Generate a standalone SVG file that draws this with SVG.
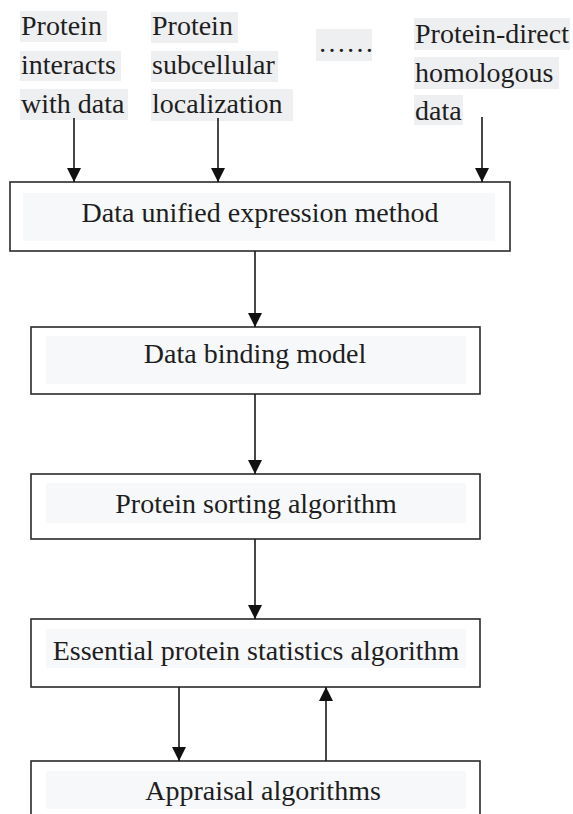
<svg xmlns="http://www.w3.org/2000/svg" width="573" height="814" viewBox="0 0 573 814">
<style>
text{font-family:"Liberation Serif","Times New Roman",serif;font-size:28px;fill:#1e1e1e}
.lbl{fill:#eeeff1}
.inner{fill:#f6f8fa}
.box{fill:#fff;stroke:#2a2a2a;stroke-width:1.6}
.c{text-anchor:middle}
.con line{stroke:#1a1a1a;stroke-width:1.6}
</style>
<defs>
<marker id="ah" markerUnits="userSpaceOnUse" markerWidth="14" markerHeight="14" viewBox="0 0 14 14" refX="14" refY="7" orient="auto">
<path d="M0,0 L14,7 L0,14 Z" fill="#111"/>
</marker>
</defs>
<rect width="573" height="814" fill="#fff"/>

<g id="label-interacts">
<rect class="lbl" x="20" y="11" width="87" height="31"/>
<rect class="lbl" x="20" y="51" width="101" height="30"/>
<rect class="lbl" x="20" y="89" width="108" height="31"/>
<text x="21" y="35">Protein</text>
<text x="21" y="74">interacts</text>
<text x="21" y="113">with data</text>
</g>
<g id="label-subcellular">
<rect class="lbl" x="151" y="12" width="87" height="31"/>
<rect class="lbl" x="151" y="51" width="127" height="31"/>
<rect class="lbl" x="151" y="89" width="142" height="32"/>
<text x="152" y="35">Protein</text>
<text x="152" y="74">subcellular</text>
<text x="152" y="113">localization</text>
</g>
<g id="label-dots">
<rect class="lbl" x="316" y="29" width="56" height="32"/>
<text x="318" y="52">……</text>
</g>
<g id="label-homologous">
<rect class="lbl" x="414" y="18" width="156" height="32"/>
<rect class="lbl" x="414" y="57" width="145" height="32"/>
<rect class="lbl" x="414" y="95" width="49" height="30"/>
<text x="415" y="43">Protein-direct</text>
<text x="415" y="82">homologous</text>
<text x="415" y="120">data</text>
</g>

<g id="node-unified">
<rect class="box" x="10" y="182" width="500" height="69"/>
<rect class="inner" x="23" y="193" width="472" height="48"/>
<text class="c" x="260" y="222">Data unified expression method</text>
</g>
<g id="node-binding">
<rect class="box" x="31" y="327" width="449" height="67"/>
<rect class="inner" x="46" y="336" width="420" height="48"/>
<text class="c" x="255" y="363">Data binding model</text>
</g>
<g id="node-sorting">
<rect class="box" x="31" y="474" width="449" height="65"/>
<rect class="inner" x="46" y="483" width="420" height="40"/>
<text class="c" x="256" y="513">Protein sorting algorithm</text>
</g>
<g id="node-statistics">
<rect class="box" x="31" y="619" width="449" height="68"/>
<rect class="inner" x="46" y="629" width="420" height="39"/>
<text class="c" x="256" y="660">Essential protein statistics algorithm</text>
</g>
<g id="node-appraisal">
<rect class="box" x="31" y="761" width="449" height="70"/>
<rect class="inner" x="46" y="771" width="420" height="38"/>
<text class="c" x="263" y="800">Appraisal algorithms</text>
</g>

<g id="connectors" class="con">
<line x1="74" y1="118" x2="74" y2="182" marker-end="url(#ah)"/>
<line x1="218" y1="118" x2="218" y2="182" marker-end="url(#ah)"/>
<line x1="482" y1="117" x2="482" y2="182" marker-end="url(#ah)"/>
<line x1="255" y1="251" x2="255" y2="327" marker-end="url(#ah)"/>
<line x1="255" y1="394" x2="255" y2="474" marker-end="url(#ah)"/>
<line x1="255" y1="539" x2="255" y2="619" marker-end="url(#ah)"/>
<line x1="179" y1="687" x2="179" y2="761" marker-end="url(#ah)"/>
<line x1="326" y1="761" x2="326" y2="687" marker-end="url(#ah)"/>
</g>
</svg>
